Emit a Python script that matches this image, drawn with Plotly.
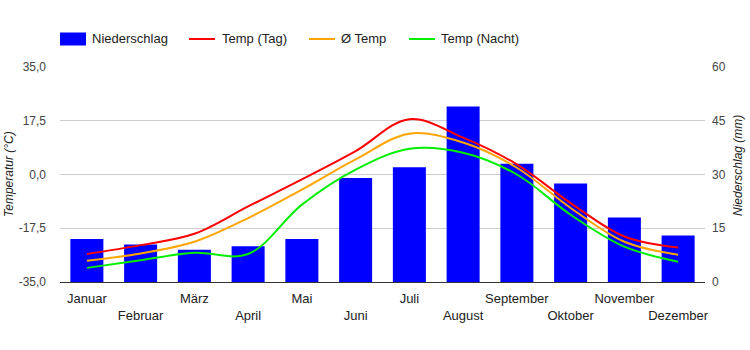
import plotly.graph_objects as go

months = ["Januar", "Februar", "März", "April", "Mai", "Juni", "Juli",
          "August", "September", "Oktober", "November", "Dezember"]
niederschlag = [12, 10.5, 9, 10, 12, 29, 32, 49, 33, 27.5, 18, 13]
temp_tag = [-25.9, -23.0, -19.3, -10.4, -1.6, 7.6, 18.0, 12.0, 3.3, -9.3, -20.2, -23.8]
temp_avg = [-28.1, -25.7, -21.9, -14.2, -4.9, 4.9, 13.3, 10.4, 2.2, -10.9, -21.9, -26.1]
temp_nacht = [-30.4, -27.9, -25.5, -25.9, -9.8, 1.6, 8.4, 7.1, 0.0, -13.1, -23.5, -28.4]

series_names = ["Niederschlag", "Temp (Tag)", "Ø Temp", "Temp (Nacht)"]
series_colors = ["#0000ff", "#ff0000", "#ffa500", "#00ee00"]

tick_text = [m if i % 2 == 0 else "<br>" + m for i, m in enumerate(months)]

W, H = 750, 350
L, R, T, B = 60, 45, 67, 68
pw = W - L - R
ph = H - T - B

fig = go.Figure()
fig.add_trace(go.Bar(x=months, y=niederschlag, name=series_names[0],
                     marker=dict(color=series_colors[0], line=dict(width=0)),
                     width=0.614, yaxis="y"))
for name, vals, col in zip(series_names[1:], [temp_tag, temp_avg, temp_nacht], series_colors[1:]):
    fig.add_trace(go.Scatter(x=months, y=vals, name=name, mode="lines",
                             line=dict(color=col, width=2, shape="spline", smoothing=1),
                             yaxis="y2"))

font_family = "Liberation Sans, Arial, sans-serif"

# custom legend (container pixel coordinates -> paper)
def px_x(px):
    return (px - L) / pw

def px_y(py):
    return (H - B - py) / ph

shapes = []
annotations = []
legend_y = 39
sym_x = [60, 189, 309, 409]
text_x = [90, 220, 339, 439]
for i, (name, col) in enumerate(zip(series_names, series_colors)):
    if i == 0:
        shapes.append(dict(type="rect", xref="paper", yref="paper",
                           x0=px_x(sym_x[i]), x1=px_x(sym_x[i] + 26),
                           y0=px_y(legend_y + 6.5), y1=px_y(legend_y - 6.5),
                           fillcolor=col, line=dict(width=0)))
    else:
        shapes.append(dict(type="line", xref="paper", yref="paper",
                           x0=px_x(sym_x[i]), x1=px_x(sym_x[i] + 26),
                           y0=px_y(legend_y), y1=px_y(legend_y),
                           line=dict(color=col, width=2)))
    annotations.append(dict(text=name, xref="paper", yref="paper",
                            x=px_x(text_x[i]), y=px_y(legend_y),
                            xanchor="left", yanchor="middle", showarrow=False,
                            font=dict(size=13, color="#222")))

annotations.append(dict(text="<i>Temperatur (°C)</i>", xref="paper", yref="paper",
                        x=px_x(9), y=px_y(174), textangle=-90,
                        showarrow=False, xanchor="center", yanchor="middle",
                        font=dict(size=12, color="#222")))
annotations.append(dict(text="<i>Niederschlag (mm)</i>", xref="paper", yref="paper",
                        x=px_x(738), y=px_y(166), textangle=-90,
                        showarrow=False, xanchor="center", yanchor="middle",
                        font=dict(size=12, color="#222")))

fig.update_layout(
    width=W, height=H,
    margin=dict(l=L, r=R, t=T, b=B, autoexpand=False),
    paper_bgcolor="white", plot_bgcolor="white",
    font=dict(family=font_family, size=12, color="#444"),
    separators=",.",
    showlegend=False,
    xaxis=dict(tickmode="array", tickvals=months, ticktext=tick_text,
               tickangle=0, automargin=False, ticklabelstandoff=4,
               showgrid=False, showline=True, linecolor="#333", linewidth=1,
               ticks="", tickfont=dict(size=13, color="#222"),
               range=[-0.5, 11.5], fixedrange=True),
    yaxis=dict(side="right", range=[0, 60], tickmode="array", automargin=False,
               tickvals=[0, 15, 30, 45, 60], ticktext=["0", "15", "30", "45", "60"],
               showgrid=True, gridcolor="#cccccc", gridwidth=1, zeroline=False,
               showline=False, ticks="", ticklabelstandoff=6,
               tickfont=dict(size=12, color="#444")),
    yaxis2=dict(side="left", overlaying="y", range=[-35, 35], tickmode="array",
                automargin=False,
                tickvals=[-35, -17.5, 0, 17.5, 35],
                ticktext=["-35,0", "-17,5", "0,0", "17,5", "35,0"],
                showgrid=False, zeroline=False, showline=False, ticks="",
                ticklabelstandoff=13, tickfont=dict(size=12, color="#444")),
    shapes=shapes,
    annotations=annotations,
)

fig.write_html("out.html")
